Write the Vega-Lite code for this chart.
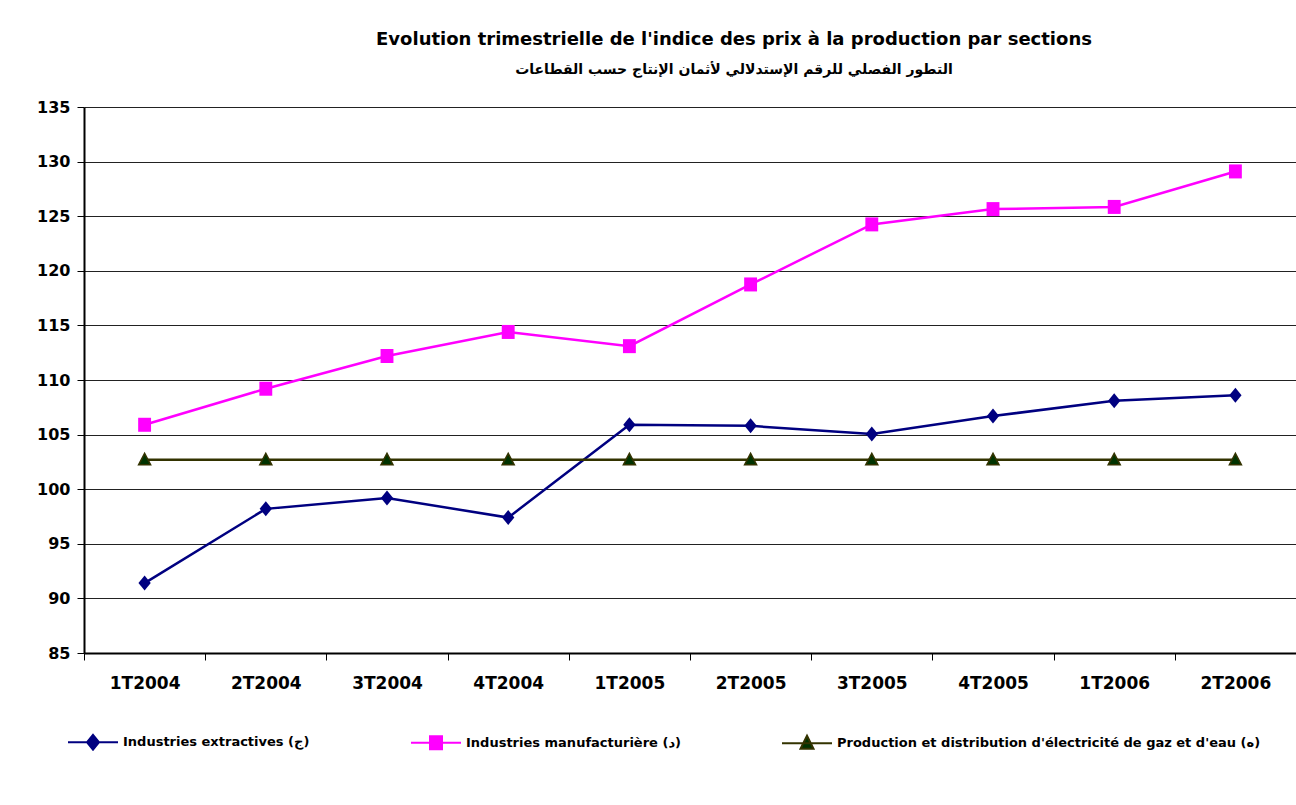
{
  "$schema": "https://vega.github.io/schema/vega-lite/v6.json",
  "autosize": {"type": "none"},
  "padding": {"left": 84, "top": 107, "right": 0, "bottom": 152},
  "width": 1212,
  "height": 546,
  "background": "white",
  "config": {
    "view": {"stroke": null},
    "font": "DejaVu Sans"
  },
  "title": {
    "text": "Evolution trimestrielle de l'indice des prix à la production par sections",
    "subtitle": "التطور الفصلي للرقم الإستدلالي لأثمان الإنتاج حسب القطاعات",
    "anchor": "middle",
    "dx": 44,
    "offset": 22,
    "font": "DejaVu Sans",
    "fontSize": 18,
    "fontWeight": "bold",
    "color": "black",
    "subtitleFont": "DejaVu Sans",
    "subtitleFontSize": 14,
    "subtitleFontWeight": "bold",
    "subtitleColor": "black",
    "subtitlePadding": 14
  },
  "data": {
    "values": [
      {"t": "1T2004", "s": "Industries extractives (ج)", "v": 91.4},
      {"t": "2T2004", "s": "Industries extractives (ج)", "v": 98.2},
      {"t": "3T2004", "s": "Industries extractives (ج)", "v": 99.2},
      {"t": "4T2004", "s": "Industries extractives (ج)", "v": 97.4},
      {"t": "1T2005", "s": "Industries extractives (ج)", "v": 105.9},
      {"t": "2T2005", "s": "Industries extractives (ج)", "v": 105.8},
      {"t": "3T2005", "s": "Industries extractives (ج)", "v": 105.05},
      {"t": "4T2005", "s": "Industries extractives (ج)", "v": 106.7},
      {"t": "1T2006", "s": "Industries extractives (ج)", "v": 108.1},
      {"t": "2T2006", "s": "Industries extractives (ج)", "v": 108.6},
      {"t": "1T2004", "s": "Industries manufacturière (د)", "v": 105.9},
      {"t": "2T2004", "s": "Industries manufacturière (د)", "v": 109.2},
      {"t": "3T2004", "s": "Industries manufacturière (د)", "v": 112.2},
      {"t": "4T2004", "s": "Industries manufacturière (د)", "v": 114.4},
      {"t": "1T2005", "s": "Industries manufacturière (د)", "v": 113.1},
      {"t": "2T2005", "s": "Industries manufacturière (د)", "v": 118.75},
      {"t": "3T2005", "s": "Industries manufacturière (د)", "v": 124.25},
      {"t": "4T2005", "s": "Industries manufacturière (د)", "v": 125.65},
      {"t": "1T2006", "s": "Industries manufacturière (د)", "v": 125.85},
      {"t": "2T2006", "s": "Industries manufacturière (د)", "v": 129.1},
      {"t": "1T2004", "s": "Production et distribution d'électricité de gaz et d'eau (ه)", "v": 102.7},
      {"t": "2T2004", "s": "Production et distribution d'électricité de gaz et d'eau (ه)", "v": 102.7},
      {"t": "3T2004", "s": "Production et distribution d'électricité de gaz et d'eau (ه)", "v": 102.7},
      {"t": "4T2004", "s": "Production et distribution d'électricité de gaz et d'eau (ه)", "v": 102.7},
      {"t": "1T2005", "s": "Production et distribution d'électricité de gaz et d'eau (ه)", "v": 102.7},
      {"t": "2T2005", "s": "Production et distribution d'électricité de gaz et d'eau (ه)", "v": 102.7},
      {"t": "3T2005", "s": "Production et distribution d'électricité de gaz et d'eau (ه)", "v": 102.7},
      {"t": "4T2005", "s": "Production et distribution d'électricité de gaz et d'eau (ه)", "v": 102.7},
      {"t": "1T2006", "s": "Production et distribution d'électricité de gaz et d'eau (ه)", "v": 102.7},
      {"t": "2T2006", "s": "Production et distribution d'électricité de gaz et d'eau (ه)", "v": 102.7}
    ]
  },
  "encoding": {
    "x": {
      "field": "t",
      "type": "ordinal",
      "sort": null,
      "bandPosition": 0.5,
      "scale": {"type": "band", "paddingInner": 0, "paddingOuter": 0},
      "axis": {
        "title": null,
        "labelAngle": 0,
        "labelFont": "DejaVu Sans",
        "labelFontSize": 17,
        "labelFontWeight": "bold",
        "labelColor": "black",
        "labelPadding": 15,
        "tickBand": "extent",
        "tickSize": 7,
        "tickColor": "black",
        "tickWidth": 1,
        "domainColor": "black",
        "domainWidth": 2,
        "grid": false
      }
    },
    "y": {
      "field": "v",
      "type": "quantitative",
      "scale": {"domain": [85, 135], "nice": false, "zero": false},
      "axis": {
        "title": null,
        "values": [85, 90, 95, 100, 105, 110, 115, 120, 125, 130, 135],
        "labelFont": "DejaVu Sans",
        "labelFontSize": 16,
        "labelFontWeight": "bold",
        "labelColor": "black",
        "labelPadding": 7,
        "tickSize": 7,
        "tickColor": "black",
        "tickWidth": 1,
        "domainColor": "black",
        "domainWidth": 2,
        "grid": true,
        "gridColor": "#222222",
        "gridWidth": 1,
        "gridOpacity": 1
      }
    }
  },
  "layer": [
    {
      "mark": {"type": "line", "strokeWidth": 2.5},
      "encoding": {
        "color": {
          "field": "s",
          "type": "nominal",
          "sort": null,
          "scale": {
            "domain": ["Industries extractives (ج)", "Industries manufacturière (د)", "Production et distribution d'électricité de gaz et d'eau (ه)"],
            "range": ["#000080", "#FF00FF", "#333300"]
          },
          "legend": {
            "title": null,
            "orient": "none",
            "legendX": -17,
            "legendY": 609,
            "direction": "horizontal",
            "columns": 3,
            "columnPadding": 97,
            "padding": 0,
            "labelFont": "DejaVu Sans",
            "labelFontSize": 13,
            "labelFontWeight": "bold",
            "labelColor": "black",
            "labelLimit": 1000,
            "labelOffset": 4,
            "symbolSize": 2500,
            "symbolStrokeWidth": 2,
            "encode": {
              "symbols": {
                "update": {
                  "shape": {"signal": "datum.index === 0 ? 'M-1,0H1M0,-0.3L0.24,0L0,0.3L-0.24,0Z' : datum.index === 1 ? 'M-1,0H1M-0.24,-0.26H0.24V0.26H-0.24Z' : 'M-1,0H1M0,-0.3L0.26,0.22L-0.26,0.22Z'"},
                  "fill": {"signal": "datum.index === 0 ? '#000080' : datum.index === 1 ? '#FF00FF' : '#003300'"},
                  "stroke": {"signal": "datum.index === 0 ? '#000080' : datum.index === 1 ? '#FF00FF' : '#333300'"},
                  "opacity": {"value": 1}
                }
              }
            }
          }
        }
      }
    },
    {
      "transform": [{"filter": "datum.s === 'Industries extractives (ج)'"}],
      "mark": {"type": "point", "filled": true, "opacity": 1, "color": "#000080", "shape": "M0,-1L0.82,0L0,1L-0.82,0Z", "size": 225}
    },
    {
      "transform": [{"filter": "datum.s === 'Industries manufacturière (د)'"}],
      "mark": {"type": "point", "filled": true, "opacity": 1, "color": "#FF00FF", "shape": "M-0.92,-1H0.92V1H-0.92Z", "size": 196}
    },
    {
      "transform": [{"filter": "datum.s === \"Production et distribution d'électricité de gaz et d'eau (ه)\""}],
      "mark": {"type": "point", "filled": true, "opacity": 1, "fill": "#003300", "stroke": "#333300", "strokeWidth": 1.5, "shape": "M0,-1.05L1,0.85L-1,0.85Z", "size": 144}
    }
  ]
}
